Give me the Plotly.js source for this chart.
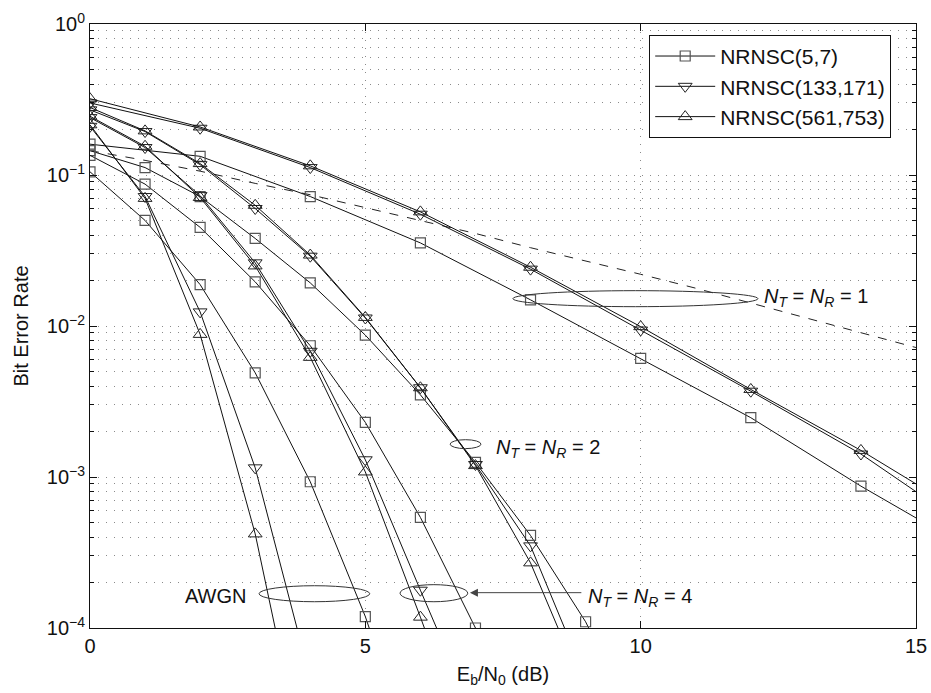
<!DOCTYPE html>
<html>
<head>
<meta charset="utf-8">
<script src="https://cdn.plot.ly/plotly-3.0.1.min.js"></script>
<style>html,body{margin:0;padding:0;background:#fff;}#chart{width:931px;height:693px;}</style>
</head>
<body>
<div id="chart"></div>
<script>
// ---- data ----
const legendNames = ['NRNSC(5,7)', 'NRNSC(133,171)', 'NRNSC(561,753)'];

// N_T = N_R = 1 (markers every 2 dB)
const xNT1   = [0, 2, 4, 6, 8, 10, 12, 14, 16];
const nt1Sq  = [0.16, 0.133, 0.072, 0.0355, 0.0149, 0.0061, 0.00247, 0.00087, 0.00033];
const nt1Dn  = [0.30, 0.204, 0.112, 0.055, 0.0238, 0.0094, 0.0037, 0.00142, 0.00045];
const nt1Up  = [0.32, 0.208, 0.115, 0.057, 0.0245, 0.0099, 0.0038, 0.00150, 0.00054];

// N_T = N_R = 2
const xNT2   = [0, 1, 2, 3, 4, 5, 6, 7, 8, 9, 10];
const nt2Sq  = [0.145, 0.112, 0.072, 0.038, 0.0193, 0.0087, 0.0035, 0.00125, 0.00041, 0.00011, 0.00002];
const nt2Dn  = [0.27, 0.194, 0.117, 0.060, 0.029, 0.0113, 0.0039, 0.00121, 0.00035, 0.000046];
const nt2Up  = [0.28, 0.196, 0.119, 0.063, 0.0295, 0.0114, 0.0039, 0.00119, 0.00027, 0.000037];

// N_T = N_R = 4
const xNT4   = [0, 1, 2, 3, 4, 5, 6, 7, 8];
const nt4Sq  = [0.135, 0.087, 0.045, 0.0196, 0.0074, 0.0023, 0.00054, 0.0001, 0.000012];
const nt4Dn  = [0.24, 0.152, 0.073, 0.0262, 0.0068, 0.0013, 0.000178, 0.000025];
const nt4Up  = [0.245, 0.155, 0.071, 0.025, 0.0062, 0.00108, 0.000118, 0.000012];

// AWGN
const xAWGN  = [0, 1, 2, 3, 4, 5, 6];
const awgnSq = [0.105, 0.05, 0.0188, 0.0049, 0.00093, 0.000119, 0.00001];
const awgnDn = [0.21, 0.072, 0.0124, 0.00115, 0.000046];
const awgnUp = [0.215, 0.070, 0.0088, 0.00042, 0.000008];

// uncoded reference (dashed)
const xRef   = [0, 1, 2, 3, 4, 5, 6, 7, 8, 9, 10, 11, 12, 13, 14, 15];
const refBER = [0.145, 0.125, 0.106, 0.088, 0.074, 0.061, 0.050, 0.041, 0.033, 0.027, 0.022, 0.0178, 0.0142, 0.0114, 0.0091, 0.0072];

const xTicks = [0, 5, 10, 15];
const yTicks = [1e-4, 1e-3, 1e-2, 1e-1, 1];
const yTickText = ['10<sup>\u22124</sup>', '10<sup>\u22123</sup>', '10<sup>\u22122</sup>', '10<sup>\u22121</sup>', '10<sup>0</sup>'];

// ---- styling ----
const FONT = '"Liberation Sans", Arial, Helvetica, sans-serif';
const lineStyle = {color: '#111', width: 1};
const symSq = {symbol: 'square-open', size: 10, color: '#555', line: {width: 1.2, color: '#555'}};
const symDn = {symbol: 'triangle-down-open', size: 12, color: '#222', line: {width: 1, color: '#222'}};
const symUp = {symbol: 'triangle-up-open', size: 12, color: '#222', line: {width: 1, color: '#222'}};

function tr(x, y, marker, name, show) {
  return {x: x, y: y, type: 'scatter', mode: 'lines+markers', line: lineStyle,
          marker: marker, name: name || '', showlegend: !!show, hoverinfo: 'skip'};
}

const traces = [
  {x: xRef, y: refBER, type: 'scatter', mode: 'lines', line: {color: '#222', width: 1, dash: '9px,9px'},
   showlegend: false, hoverinfo: 'skip'},
  tr(xNT1, nt1Sq, symSq, legendNames[0], true),
  tr(xNT1, nt1Dn, symDn, legendNames[1], true),
  tr(xNT1, nt1Up, symUp, legendNames[2], true),
  tr(xNT2, nt2Sq, symSq), tr(xNT2, nt2Dn, symDn), tr(xNT2, nt2Up, symUp),
  tr(xNT4, nt4Sq, symSq), tr(xNT4, nt4Dn, symDn), tr(xNT4, nt4Up, symUp),
  tr(xAWGN, awgnSq, symSq), tr(xAWGN, awgnDn, symDn), tr(xAWGN, awgnUp, symUp)
];

const minorVals = [];
for (let e = -4; e < 0; e++) for (let d = 2; d <= 9; d++) minorVals.push(d * Math.pow(10, e));

const GRID = '#8a8a8a';
const DOT = '1px,7px';

// ellipse given in x data units and log10(BER) units, placed on paper y
const yDecades = 4;
const py = lg => (lg + yDecades) / yDecades;
function ell(x0, x1, lg0, lg1) {
  return {type: 'circle', xref: 'x', yref: 'paper', x0: x0, x1: x1, y0: py(lg0), y1: py(lg1),
          line: {color: '#333', width: 1}, layer: 'above'};
}
function lab(x, y, text, xanchor) {
  return {x: x, y: y, xref: 'x', yref: 'y', text: text, showarrow: false,
          xanchor: xanchor || 'left', yanchor: 'middle', font: {family: FONT, size: 20, color: '#111'}};
}
const NTNR = n => '<i>N</i><sub><i>T</i></sub> = <i>N</i><sub><i>R</i></sub> = ' + n;

const layout = {
  width: 931, height: 693,
  margin: {l: 90, r: 15, t: 24, b: 65},
  paper_bgcolor: '#fff', plot_bgcolor: '#fff',
  font: {family: FONT, size: 20, color: '#111'},
  showlegend: true,
  legend: {x: 0.677, y: 0.982, xanchor: 'left', yanchor: 'top', bgcolor: '#fff',
           bordercolor: '#111', borderwidth: 1, font: {family: FONT, size: 21, color: '#111'},
           itemwidth: 60, tracegroupgap: 0},
  xaxis: {range: [0, 15], tickvals: xTicks, ticks: 'inside', ticklen: 7, tickcolor: '#111',
          showline: true, linecolor: '#111', linewidth: 1, mirror: 'allticks',
          showgrid: true, gridcolor: GRID, griddash: DOT, gridwidth: 1, zeroline: false,
          tickfont: {family: FONT, size: 20, color: '#111'},
          title: {text: 'E<sub>b</sub>/N<sub>0</sub> (dB)', font: {family: FONT, size: 20, color: '#111'}, standoff: 10}},
  yaxis: {type: 'log', range: [-4, 0], tickvals: yTicks, ticktext: yTickText,
          ticks: 'inside', ticklen: 7, tickcolor: '#111',
          showline: true, linecolor: '#111', linewidth: 1, mirror: 'allticks',
          showgrid: true, gridcolor: GRID, griddash: DOT, gridwidth: 1, zeroline: false,
          minor: {tickvals: minorVals, ticks: 'inside', ticklen: 4, tickcolor: '#111',
                  showgrid: true, gridcolor: GRID, griddash: DOT, gridwidth: 1},
          tickfont: {family: FONT, size: 20, color: '#111'},
          title: {text: 'Bit Error Rate', font: {family: FONT, size: 20, color: '#111'}, standoff: 12}},
  shapes: [
    ell(7.68, 12.13, -1.766, -1.872),
    ell(6.54, 7.10, -2.753, -2.812),
    ell(5.63, 6.86, -3.713, -3.826),
    ell(3.07, 5.08, -3.72, -3.826)
  ],
  annotations: [
    lab(12.2, -1.81, NTNR(1)),
    lab(7.34, -2.81, NTNR(2)),
    lab(9.0, -3.80, NTNR(4)),
    lab(2.87, -3.79, 'AWGN', 'right'),
    {x: 6.9, y: -3.766, xref: 'x', yref: 'y', ax: 8.95, ay: -3.766, axref: 'x', ayref: 'y',
     text: '', showarrow: true, arrowhead: 2, arrowsize: 1.6, arrowwidth: 1, arrowcolor: '#444'}
  ]
};

Plotly.newPlot('chart', traces, layout, {staticPlot: true, displayModeBar: false});
</script>
</body>
</html>
